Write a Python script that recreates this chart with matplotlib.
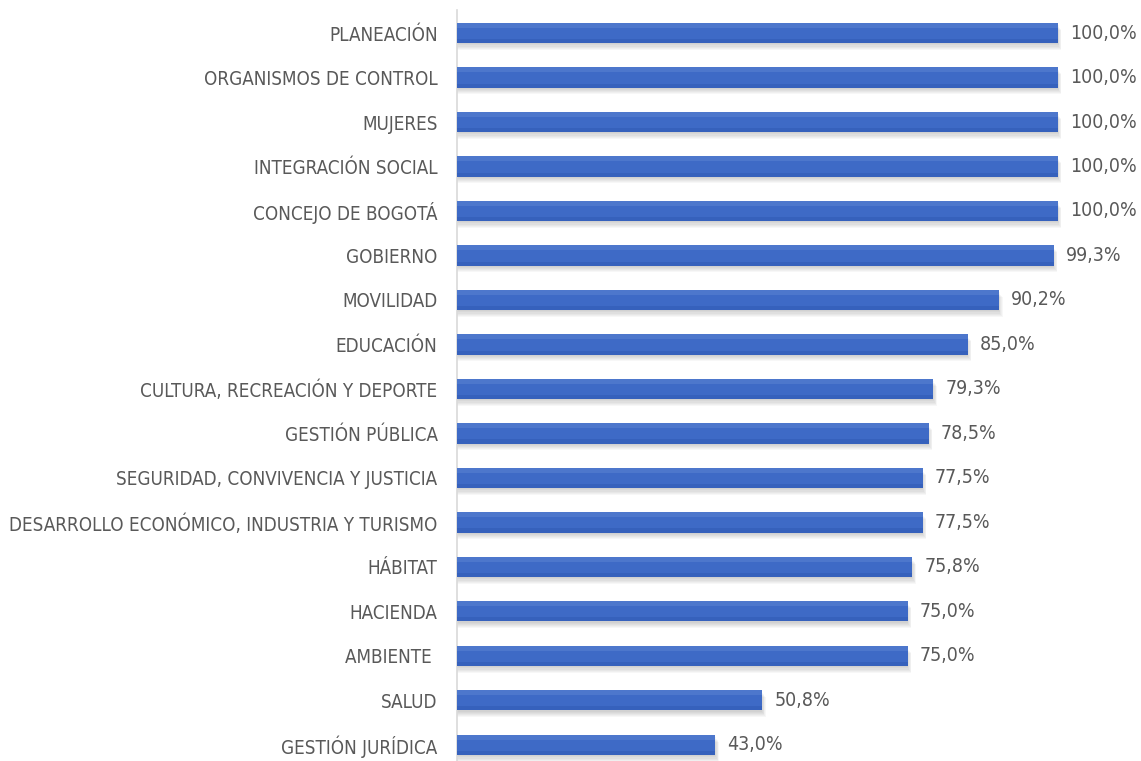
import matplotlib
matplotlib.use("Agg")
import matplotlib.pyplot as plt
from matplotlib.patches import Rectangle

categorias = [
    "PLANEACIÓN",
    "ORGANISMOS DE CONTROL",
    "MUJERES",
    "INTEGRACIÓN SOCIAL",
    "CONCEJO DE BOGOTÁ",
    "GOBIERNO",
    "MOVILIDAD",
    "EDUCACIÓN",
    "CULTURA, RECREACIÓN Y DEPORTE",
    "GESTIÓN PÚBLICA",
    "SEGURIDAD, CONVIVENCIA Y JUSTICIA",
    "DESARROLLO ECONÓMICO, INDUSTRIA Y TURISMO",
    "HÁBITAT",
    "HACIENDA",
    "AMBIENTE ",
    "SALUD",
    "GESTIÓN JURÍDICA",
]
avance = [100.0, 100.0, 100.0, 100.0, 100.0, 99.3, 90.2, 85.0, 79.3,
          78.5, 77.5, 77.5, 75.8, 75.0, 75.0, 50.8, 43.0]

plt.rcParams['font.family'] = ['DejaVu Sans']
plt.rcParams['font.stretch'] = 'condensed'

fig = plt.figure(figsize=(11.41, 7.61), dpi=100)
ax = fig.add_axes([457 / 1141, 0, 1 - 457 / 1141, 1 - 10 / 761])

pos = list(range(len(categorias)))
alto = 0.45

# sombra difusa bajo cada barra
for y, v in zip(pos, avance):
    for k in range(6):
        ax.add_patch(Rectangle((0, y - alto / 2 + 0.03 + 0.025 * k), v + 0.12 * k, alto,
                               facecolor="#000000", alpha=0.03, linewidth=0, zorder=1))

ax.barh(pos, avance, height=alto, color="#3E6AC6", zorder=3, linewidth=0)
# degradado: franja clara arriba, oscura abajo
ax.barh([p - alto * 0.375 for p in pos], avance, height=alto * 0.25, color="#6A92DA",
        alpha=0.35, zorder=4, linewidth=0)
ax.barh([p + alto * 0.4 for p in pos], avance, height=alto * 0.2, color="#2A55AE",
        alpha=0.4, zorder=4, linewidth=0)

for y, v in zip(pos, avance):
    ax.text(v + 2.0, y, f"{v:.1f}%".replace(".", ","), va="center", ha="left",
            fontsize=14, color="#595959")

ax.set_yticks(pos)
ax.set_yticklabels(categorias, fontsize=13.5, color="#595959")
ax.tick_params(axis="y", length=0, pad=14)
ax.set_xticks([])
ax.set_xlim(0, (1141 - 458) / 6)
ax.set_ylim(16.36, -0.517)

for lado in ["top", "right", "bottom"]:
    ax.spines[lado].set_visible(False)
ax.spines["left"].set_color("#D9D9D9")
ax.spines["left"].set_linewidth(1.2)

fig.savefig("out.png", dpi=100)
